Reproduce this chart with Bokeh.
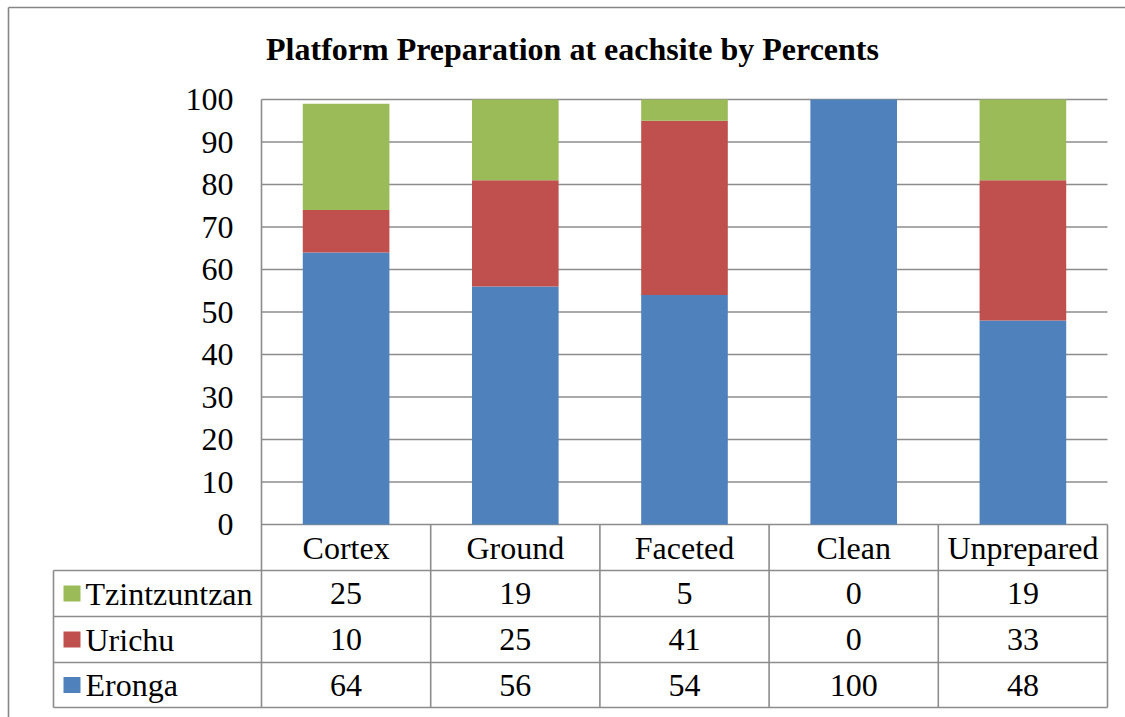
from bokeh.plotting import figure
from bokeh.models import Range1d
from bokeh.core.properties import value
from bokeh.embed import file_html
from bokeh.resources import INLINE

# ---------------- data ----------------
title = "Platform Preparation at eachsite by Percents"
categories = ["Cortex", "Ground", "Faceted", "Clean", "Unprepared"]
eronga = [64, 56, 54, 100, 48]
urichu = [10, 25, 41, 0, 33]
tzintzuntzan = [25, 19, 5, 0, 19]
series_names = ["Eronga", "Urichu", "Tzintzuntzan"]
series_colors = ["#4F81BD", "#C0504D", "#9BBB59"]
y_ticks = [0, 10, 20, 30, 40, 50, 60, 70, 80, 90, 100]

# ---------------- layout (canvas pixels) ----------------
W, H = 1125, 717
PL, PR = 261, 1107          # plot area left/right
Y100, Y0 = 99, 524          # pixel rows of 100 and 0
N = len(categories)
CAT_PX = (PR - PL) / N
PCT_PX = (Y0 - Y100) / 100.0


def xd(px):
    return (px - PL) / CAT_PX


def yd(py):
    return (Y0 - py) / PCT_PX


FONT = value("Liberation Serif")
FS = "32px"
GRID = "#8C8C8C"
LW = 1.6

p = figure(width=W, height=H, output_backend="svg", toolbar_location=None,
           x_range=Range1d(xd(0), xd(W)), y_range=Range1d(yd(H), yd(0)),
           x_axis_type=None, y_axis_type=None, min_border=0,
           outline_line_color=None, background_fill_color="white",
           border_fill_color="white")

xs = [i + 0.5 for i in range(N)]

# ---------------- gridlines ----------------
p.segment(x0=[0] * len(y_ticks), x1=[N] * len(y_ticks), y0=y_ticks, y1=y_ticks,
          line_color=GRID, line_width=LW)

# ---------------- stacked bars ----------------
series_vals = [eronga, urichu, tzintzuntzan]
bottom = [0] * N
for vals, col in zip(series_vals, series_colors):
    top = [b + v for b, v in zip(bottom, vals)]
    p.vbar(x=xs, width=0.512, bottom=bottom, top=top, fill_color=col,
           line_color=None)
    bottom = top

# ---------------- y tick labels ----------------
p.text(x=[xd(233)] * len(y_ticks), y=y_ticks, text=[str(t) for t in y_ticks],
       text_font=FONT, text_font_size=FS, text_align="right",
       text_baseline="middle", text_color="black")

# ---------------- title ----------------
p.text(x=[xd(572)], y=[yd(48)], text=[title], text_font=FONT,
       text_font_size="32px", text_font_style="bold", text_align="center",
       text_baseline="middle", text_color="black")

# ---------------- data table ----------------
row_lines = [yd(570), yd(616), yd(662), yd(707)]
header_mid = (0 + row_lines[0]) / 2
x_lab_left = xd(53)

# header text
p.text(x=xs, y=[header_mid] * N, text=categories, text_font=FONT,
       text_font_size=FS, text_align="center", text_baseline="middle",
       text_color="black")

# table rows (top to bottom: Tzintzuntzan, Urichu, Eronga)
order = [2, 1, 0]
for r, si in enumerate(order):
    ymid = (row_lines[r] + row_lines[r + 1]) / 2
    p.text(x=xs, y=[ymid] * N, text=[str(v) for v in series_vals[si]],
           text_font=FONT, text_font_size=FS, text_align="center",
           text_baseline="middle", text_color="black")
    p.rect(x=[xd(71.5)], y=[ymid], width=17, height=16, width_units="screen",
           height_units="screen", fill_color=series_colors[si], line_color=None)
    p.text(x=[xd(85)], y=[ymid], text=[series_names[si]], text_font=FONT,
           text_font_size=FS, text_align="left", text_baseline="middle",
           text_color="black")

# horizontal table lines
p.segment(x0=[x_lab_left] * 4, x1=[N] * 4, y0=row_lines, y1=row_lines,
          line_color=GRID, line_width=LW)
# vertical table lines
p.segment(x0=list(range(1, N + 1)), x1=list(range(1, N + 1)),
          y0=[0] * N, y1=[row_lines[-1]] * N, line_color=GRID, line_width=LW)
p.segment(x0=[0], x1=[0], y0=[100], y1=[row_lines[-1]], line_color=GRID,
          line_width=LW)
p.segment(x0=[x_lab_left], x1=[x_lab_left], y0=[row_lines[0]],
          y1=[row_lines[-1]], line_color=GRID, line_width=LW)

# outer chart border (left and top)
p.segment(x0=[xd(8), xd(8)], x1=[xd(8), xd(W)], y0=[yd(7), yd(7)],
          y1=[yd(H), yd(7)], line_color="#868686", line_width=LW)

open("out.html", "w").write(file_html(p, INLINE))
